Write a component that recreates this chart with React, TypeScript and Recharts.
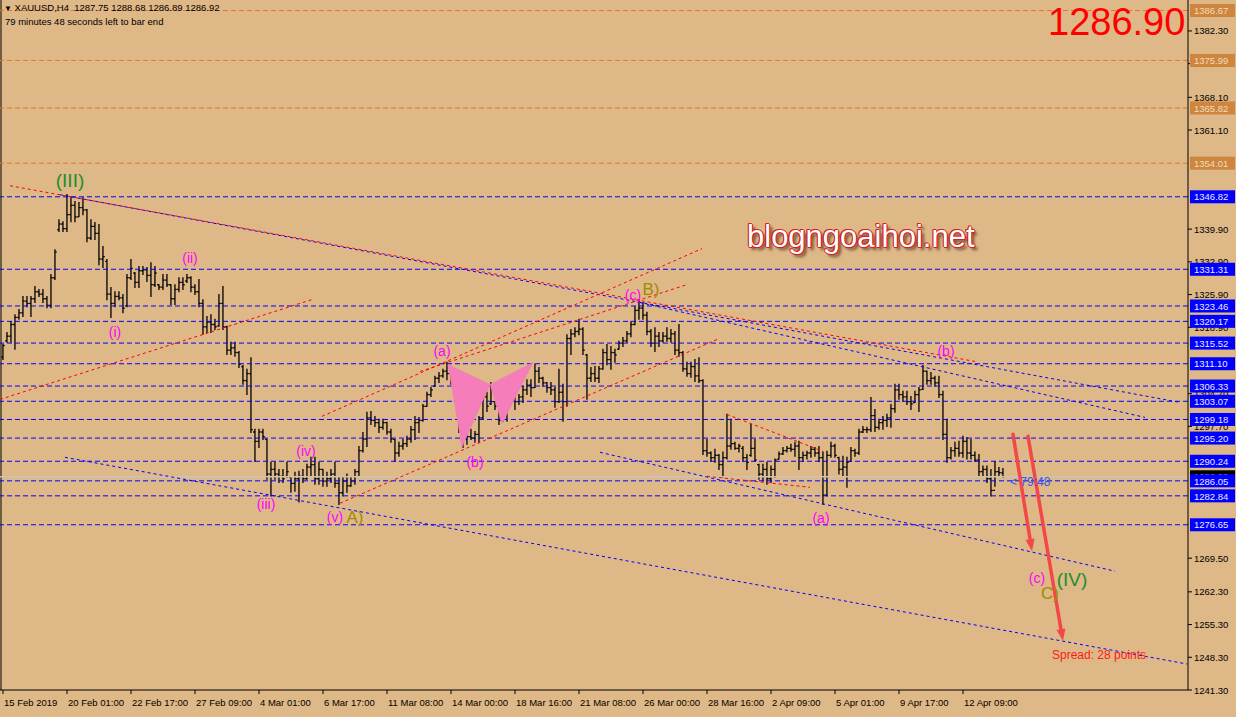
import React from 'react';
import { ComposedChart, XAxis, YAxis, Bar, ReferenceLine, ReferenceDot, Scatter } from 'recharts';

const FONT = "'Liberation Sans', Arial, sans-serif";

// ---- OHLC data (XAUUSD H4, 15 Feb 2019 -> 15 Apr 2019) ----
const highs = [
  1315.2, 1317.8, 1320.1, 1321.6, 1322.7, 1325.5, 1325.5, 1325.5, 1327.6, 1327.0,
  1327.0, 1325.5, 1330.2, 1335.5, 1341.9, 1341.5, 1347.3, 1346.8, 1345.8, 1345.6,
  1346.6, 1344.1, 1341.9, 1341.3, 1340.9, 1336.2, 1333.4, 1327.4, 1326.5, 1326.5,
  1325.9, 1330.2, 1333.4, 1330.6, 1331.9, 1331.9, 1331.7, 1332.7, 1331.9, 1328.0,
  1330.2, 1330.2, 1328.0, 1328.0, 1329.5, 1329.5, 1330.2, 1329.7, 1328.0, 1329.1,
  1324.8, 1321.2, 1321.6, 1320.6, 1325.9, 1327.6, 1319.1, 1315.7, 1315.7, 1313.7,
  1310.7, 1309.9, 1312.4, 1297.1, 1297.1, 1297.1, 1294.9, 1290.0, 1290.0, 1288.5,
  1288.5, 1290.0, 1287.0, 1287.9, 1288.1, 1288.5, 1289.6, 1291.1, 1291.1, 1290.0,
  1288.5, 1287.9, 1288.5, 1290.0, 1287.0, 1287.0, 1287.5, 1286.8, 1288.5, 1293.4,
  1296.4, 1300.7, 1300.9, 1299.8, 1299.2, 1299.2, 1298.6, 1297.1, 1294.9, 1294.3,
  1294.9, 1295.6, 1297.7, 1299.8, 1299.6, 1302.4, 1305.0, 1306.0, 1308.4, 1309.2,
  1309.9, 1311.4, 1309.9, 1306.7, 1305.0, 1298.6, 1296.6, 1297.1, 1296.6, 1299.8,
  1305.0, 1305.0, 1307.1, 1303.0, 1303.0, 1302.4, 1307.1, 1307.1, 1307.1, 1304.5,
  1306.3, 1307.7, 1307.7, 1311.0, 1310.3, 1308.2, 1307.1, 1307.1, 1306.0, 1309.9,
  1306.7, 1317.3, 1318.4, 1318.8, 1320.6, 1318.8, 1313.1, 1310.3, 1310.5, 1310.5,
  1314.2, 1315.2, 1314.8, 1314.2, 1315.9, 1316.7, 1318.0, 1320.1, 1323.3, 1324.8,
  1324.2, 1322.1, 1318.4, 1318.8, 1317.8, 1317.8, 1318.8, 1318.4, 1318.0, 1319.5,
  1313.7, 1311.4, 1311.4, 1312.0, 1312.4, 1307.7, 1294.9, 1292.2, 1292.8, 1291.7,
  1292.2, 1300.3, 1299.2, 1294.3, 1293.9, 1293.4, 1291.7, 1298.1, 1294.9, 1289.6,
  1289.6, 1290.0, 1289.2, 1290.7, 1292.2, 1293.2, 1293.4, 1293.9, 1294.3, 1294.5,
  1292.2, 1292.4, 1293.4, 1293.2, 1293.4, 1292.2, 1292.4, 1294.3, 1293.9, 1291.1,
  1291.3, 1291.1, 1293.2, 1292.8, 1297.1, 1297.7, 1297.5, 1303.9, 1301.3, 1299.2,
  1299.8, 1300.3, 1302.4, 1306.7, 1306.7, 1305.2, 1305.2, 1304.1, 1305.2, 1306.0,
  1310.7, 1309.5, 1309.2, 1308.4, 1308.4, 1305.2, 1299.2, 1293.2, 1294.3, 1294.5,
  1295.6, 1295.3, 1294.9, 1292.2, 1291.7, 1289.2, 1289.2, 1288.5, 1290.2, 1288.9,
  1288.68,
];
const lows = [
  1312.0, 1315.7, 1315.7, 1314.2, 1320.6, 1321.2, 1323.3, 1321.2, 1324.2, 1325.5,
  1324.2, 1323.1, 1323.1, 1329.1, 1339.4, 1339.4, 1339.4, 1341.5, 1341.5, 1342.6,
  1343.0, 1337.2, 1337.7, 1337.7, 1332.3, 1331.7, 1324.8, 1321.0, 1323.3, 1324.8,
  1322.0, 1323.3, 1329.1, 1327.4, 1327.4, 1330.2, 1328.7, 1325.5, 1327.6, 1327.0,
  1327.0, 1327.6, 1323.8, 1323.8, 1326.5, 1327.0, 1328.5, 1326.5, 1325.9, 1323.3,
  1317.4, 1317.8, 1317.8, 1318.4, 1319.1, 1318.4, 1313.1, 1313.1, 1312.7, 1310.3,
  1306.7, 1304.5, 1296.4, 1290.2, 1293.2, 1294.9, 1286.4, 1282.8, 1286.4, 1285.7,
  1285.7, 1286.8, 1283.6, 1283.8, 1281.5, 1285.7, 1286.4, 1287.0, 1285.3, 1285.3,
  1284.9, 1284.9, 1285.7, 1284.7, 1281.0, 1282.8, 1283.6, 1284.9, 1285.3, 1287.0,
  1292.2, 1293.4, 1298.1, 1297.7, 1296.4, 1297.1, 1296.0, 1294.3, 1290.2, 1291.3,
  1292.8, 1293.4, 1294.3, 1294.9, 1296.4, 1298.8, 1302.0, 1304.1, 1306.3, 1307.1,
  1308.2, 1307.7, 1306.7, 1303.0, 1296.4, 1293.2, 1293.9, 1294.9, 1294.3, 1294.3,
  1299.2, 1300.9, 1302.4, 1301.3, 1298.1, 1298.8, 1298.8, 1302.8, 1301.3, 1302.4,
  1302.8, 1304.5, 1304.1, 1306.0, 1307.1, 1306.3, 1305.0, 1304.5, 1301.8, 1302.8,
  1298.8, 1302.0, 1313.1, 1316.9, 1317.3, 1313.1, 1303.5, 1307.3, 1307.3, 1307.1,
  1309.9, 1310.9, 1309.9, 1311.4, 1314.2, 1314.8, 1315.7, 1316.9, 1319.5, 1320.6,
  1320.6, 1317.3, 1314.8, 1313.7, 1314.8, 1315.7, 1315.9, 1315.7, 1313.1, 1312.7,
  1309.5, 1308.4, 1308.2, 1307.3, 1307.1, 1291.7, 1291.3, 1290.2, 1290.0, 1288.5,
  1286.8, 1290.7, 1292.8, 1292.8, 1292.2, 1290.2, 1288.5, 1291.3, 1290.2, 1286.4,
  1286.0, 1285.3, 1285.7, 1286.8, 1290.7, 1291.7, 1292.2, 1292.4, 1291.3, 1288.5,
  1290.2, 1290.7, 1291.1, 1291.3, 1290.2, 1281.0, 1282.8, 1291.1, 1291.1, 1287.5,
  1287.0, 1284.7, 1290.2, 1291.3, 1291.7, 1296.4, 1296.4, 1296.6, 1296.6, 1297.1,
  1297.1, 1297.7, 1297.5, 1300.7, 1303.5, 1303.0, 1302.4, 1301.3, 1302.8, 1300.9,
  1305.6, 1306.7, 1306.7, 1306.3, 1303.9, 1294.9, 1290.0, 1290.7, 1291.3, 1291.3,
  1291.1, 1290.7, 1290.7, 1290.2, 1287.0, 1287.0, 1285.7, 1282.8, 1284.9, 1287.0,
  1286.89,
];
const opens = [
  1312.5, 1316.0, 1317.0, 1319.5, 1321.0, 1322.0, 1324.5, 1324.0, 1325.0, 1326.5,
  1326.0, 1325.0, 1323.6, 1329.5, 1339.8, 1341.0, 1340.0, 1343.0, 1345.0, 1342.5,
  1344.5, 1344.0, 1338.0, 1340.5, 1339.0, 1333.5, 1333.0, 1326.0, 1324.0, 1325.5,
  1325.2, 1323.5, 1329.5, 1330.5, 1328.5, 1331.0, 1331.2, 1330.0, 1328.0, 1328.0,
  1327.5, 1329.0, 1328.0, 1325.0, 1327.0, 1328.5, 1328.8, 1329.5, 1327.5, 1326.5,
  1324.0, 1319.0, 1320.0, 1319.5, 1319.2, 1324.0, 1319.0, 1314.0, 1314.5, 1313.5,
  1310.5, 1307.5, 1309.0, 1296.5, 1294.5, 1296.5, 1294.9, 1287.5, 1288.5, 1287.5,
  1287.0, 1287.0, 1286.8, 1285.5, 1286.5, 1287.0, 1286.5, 1289.0, 1289.5, 1286.5,
  1288.5, 1286.0, 1286.5, 1287.5, 1285.5, 1283.5, 1286.0, 1285.0, 1286.0, 1288.0,
  1292.5, 1295.0, 1299.5, 1299.0, 1298.5, 1297.5, 1298.5, 1296.5, 1294.9, 1292.0,
  1293.5, 1294.0, 1295.0, 1297.0, 1298.5, 1299.0, 1302.0, 1304.5, 1306.3, 1308.0,
  1308.5, 1309.5, 1309.0, 1306.7, 1303.5, 1298.0, 1295.0, 1295.5, 1295.2, 1296.0,
  1299.5, 1304.0, 1302.5, 1303.0, 1302.0, 1299.0, 1302.0, 1306.0, 1304.0, 1303.0,
  1304.0, 1305.5, 1306.5, 1306.0, 1309.5, 1308.0, 1307.0, 1306.0, 1305.5, 1303.0,
  1305.0, 1303.0, 1316.5, 1317.5, 1318.0, 1318.5, 1313.0, 1308.0, 1309.0, 1308.0,
  1310.0, 1313.5, 1312.0, 1313.5, 1314.2, 1315.5, 1316.0, 1317.5, 1319.5, 1322.5,
  1323.0, 1321.5, 1318.0, 1315.5, 1317.0, 1316.0, 1317.0, 1316.5, 1317.5, 1314.0,
  1313.5, 1310.0, 1309.0, 1310.5, 1308.5, 1307.5, 1292.5, 1292.0, 1291.0, 1291.5,
  1289.5, 1291.0, 1293.5, 1294.0, 1293.0, 1293.0, 1291.0, 1291.5, 1293.0, 1289.5,
  1287.5, 1288.5, 1286.5, 1288.5, 1290.7, 1291.8, 1292.5, 1293.0, 1292.8, 1293.5,
  1291.0, 1291.5, 1292.0, 1292.8, 1292.0, 1291.0, 1283.0, 1291.5, 1293.5, 1291.0,
  1288.5, 1289.0, 1290.2, 1292.5, 1292.0, 1296.5, 1297.0, 1297.0, 1300.0, 1297.5,
  1298.5, 1299.0, 1299.5, 1301.5, 1305.5, 1304.5, 1304.0, 1303.0, 1302.8, 1304.5,
  1305.6, 1309.5, 1307.5, 1308.0, 1307.0, 1304.5, 1296.0, 1291.0, 1292.5, 1293.0,
  1292.0, 1294.5, 1292.0, 1291.5, 1290.5, 1288.0, 1288.5, 1286.5, 1284.0, 1288.0,
  1287.75,
];
const closes = [
  1315.0, 1317.0, 1319.5, 1321.0, 1322.0, 1324.5, 1324.0, 1325.0, 1326.5, 1326.0,
  1325.0, 1323.6, 1329.5, 1335.0, 1341.0, 1340.0, 1343.0, 1345.0, 1342.5, 1344.5,
  1344.0, 1338.0, 1340.5, 1339.0, 1333.5, 1334.0, 1326.0, 1324.0, 1325.5, 1325.2,
  1323.0, 1329.5, 1331.5, 1328.5, 1331.0, 1331.2, 1330.0, 1328.0, 1330.5, 1327.5,
  1329.0, 1328.0, 1325.0, 1327.0, 1328.5, 1328.0, 1329.5, 1327.5, 1326.5, 1324.0,
  1319.0, 1320.0, 1319.5, 1319.0, 1324.0, 1319.0, 1314.0, 1314.5, 1313.5, 1311.0,
  1307.5, 1309.0, 1297.0, 1294.5, 1296.5, 1295.5, 1287.5, 1288.5, 1287.5, 1287.0,
  1286.5, 1288.0, 1285.5, 1286.5, 1287.0, 1286.5, 1289.0, 1289.5, 1286.5, 1288.5,
  1286.0, 1286.5, 1287.5, 1285.5, 1283.5, 1286.0, 1285.0, 1286.0, 1288.0, 1292.5,
  1295.0, 1299.5, 1299.0, 1298.5, 1297.5, 1298.5, 1296.5, 1295.0, 1292.0, 1293.5,
  1294.0, 1295.0, 1297.0, 1298.5, 1299.0, 1302.0, 1304.5, 1305.5, 1308.0, 1308.5,
  1309.5, 1309.0, 1307.0, 1303.5, 1298.0, 1295.0, 1295.5, 1295.2, 1296.0, 1299.5,
  1304.0, 1302.0, 1303.0, 1302.0, 1299.0, 1302.0, 1306.0, 1304.0, 1303.0, 1304.0,
  1305.5, 1306.5, 1306.0, 1309.5, 1308.0, 1307.0, 1306.0, 1305.5, 1303.0, 1305.0,
  1303.0, 1316.5, 1317.5, 1318.0, 1318.5, 1314.0, 1308.0, 1309.0, 1308.0, 1310.0,
  1313.5, 1312.0, 1313.5, 1313.0, 1315.5, 1316.0, 1317.5, 1319.5, 1322.5, 1323.0,
  1321.5, 1318.0, 1315.5, 1317.0, 1316.0, 1317.0, 1316.5, 1317.5, 1314.0, 1313.5,
  1310.0, 1309.0, 1310.5, 1308.5, 1307.5, 1292.5, 1292.0, 1291.0, 1291.5, 1289.5,
  1291.0, 1293.5, 1294.0, 1293.0, 1293.5, 1291.0, 1290.0, 1293.0, 1290.5, 1287.5,
  1288.5, 1286.5, 1288.5, 1290.5, 1291.8, 1292.5, 1293.0, 1292.8, 1293.5, 1291.0,
  1291.5, 1292.0, 1292.8, 1292.0, 1291.0, 1283.0, 1291.5, 1293.5, 1291.5, 1288.5,
  1289.0, 1290.0, 1292.5, 1292.0, 1296.5, 1297.0, 1297.0, 1300.0, 1297.5, 1298.5,
  1299.0, 1299.5, 1301.5, 1305.5, 1304.5, 1304.0, 1303.0, 1302.5, 1304.5, 1305.5,
  1309.5, 1307.5, 1308.0, 1307.0, 1304.5, 1296.0, 1291.0, 1292.5, 1293.0, 1292.0,
  1294.5, 1292.0, 1291.5, 1290.5, 1288.0, 1288.5, 1286.5, 1284.0, 1288.0, 1287.8,
  1286.92,
];

// ---- axes ----
const xTickIndex = [0, 16, 32, 48, 64, 80, 96, 112, 128, 144, 160, 176, 192, 208, 224, 240];
const xTickLabels = [
  '15 Feb 2019', '20 Feb 01:00', '22 Feb 17:00', '27 Feb 09:00', '4 Mar 01:00', '6 Mar 17:00',
  '11 Mar 08:00', '14 Mar 00:00', '18 Mar 16:00', '21 Mar 08:00', '26 Mar 00:00', '28 Mar 16:00',
  '2 Apr 09:00', '5 Apr 01:00', '9 Apr 17:00', '12 Apr 09:00',
];
// price-scale labels that are not completely covered by the level tags
const yTicks = [
  1382.3, 1375.3, 1368.1, 1361.1, 1339.9, 1332.9, 1325.9, 1318.9,
  1304.7, 1297.7, 1269.5, 1262.3, 1255.3, 1248.3, 1241.3,
];

// ---- horizontal levels ----
const blueLevels = [1346.82, 1331.31, 1323.46, 1320.17, 1315.52, 1311.10, 1306.33, 1303.07, 1299.18, 1295.20, 1290.24, 1286.05, 1282.84, 1276.65];
const orangeLevels = [1386.67, 1375.99, 1365.82, 1354.01];
const bidPrice = 1286.92;

// ---- trend lines: [startIndex, startPrice, endIndex, endPrice] ----
const blueTrends = [
  [14.25, 1347.26, 294.25, 1302.83],
  [159.25, 1324.19, 285.5, 1299.62],
  [149.25, 1292.15, 278, 1266.72],
  [15.5, 1291.08, 296, 1246.86],
];
const redTrends = [
  [1.75, 1349.18, 243, 1311.59],
  [-0.75, 1303.47, 77.25, 1324.83],
  [79.75, 1299.84, 174.75, 1335.73],
  [104.25, 1309.45, 171, 1328.04],
  [84.25, 1281.25, 178.5, 1316.29],
  [181, 1300.26, 205, 1292.36],
  [176, 1287.02, 201.75, 1284.67],
];
const arrows = [
  [252.5, 1296.0, 257.25, 1271.0],
  [256.25, 1295.56, 265, 1251.77],
];

// ---- butterfly pattern ----
const butterflyLeft = [
  { i: 111.25, p: 1310.95 },
  { i: 121.75, p: 1306.67 },
  { i: 114.75, p: 1293.21 },
];
const butterflyRight = [
  { i: 121.75, p: 1306.67 },
  { i: 132.5, p: 1311.37 },
  { i: 124.75, p: 1298.2 },
];

// ---- wave labels ----
const MAG = '#FF00FF';
const GRN = '#18902A';
const OLV = '#9C8C00';
const waveLabels = [
  { i: 16.75, p: 1350.2, text: '(III)', color: GRN, size: 19, anchor: 'middle' },
  { i: 46.75, p: 1333.8, text: '(ii)', color: MAG, size: 14, anchor: 'middle' },
  { i: 28, p: 1317.8, text: '(i)', color: MAG, size: 14, anchor: 'middle' },
  { i: 65.75, p: 1281.0, text: '(iii)', color: MAG, size: 14, anchor: 'middle' },
  { i: 75.75, p: 1292.4, text: '(iv)', color: MAG, size: 14, anchor: 'middle' },
  { i: 83, p: 1278.3, text: '(v)', color: MAG, size: 14, anchor: 'middle' },
  { i: 88, p: 1278.1, text: 'A)', color: OLV, size: 17, anchor: 'middle' },
  { i: 109.75, p: 1313.9, text: '(a)', color: MAG, size: 14, anchor: 'middle' },
  { i: 118, p: 1290.0, text: '(b)', color: MAG, size: 14, anchor: 'middle' },
  { i: 157.5, p: 1325.9, text: '(c)', color: MAG, size: 14, anchor: 'middle' },
  { i: 162, p: 1327.0, text: 'B)', color: OLV, size: 17, anchor: 'middle' },
  { i: 204.5, p: 1278.0, text: '(a)', color: MAG, size: 14, anchor: 'middle' },
  { i: 235.75, p: 1313.9, text: '(b)', color: MAG, size: 14, anchor: 'middle' },
  { i: 258.5, p: 1265.3, text: '(c)', color: MAG, size: 14, anchor: 'middle' },
  { i: 261.75, p: 1262.0, text: 'C)', color: OLV, size: 17, anchor: 'middle' },
  { i: 267.25, p: 1265.0, text: '(IV)', color: GRN, size: 19, anchor: 'middle' },
  { i: 251.75, p: 1285.7, text: '< 79:48', color: '#3355EE', size: 12, anchor: 'start' },
  { i: 262.25, p: 1248.8, text: 'Spread: 28 points', color: '#FF1A1A', size: 12, anchor: 'start' },
];

const rows = highs.map((h, i) => ({
  i,
  range: [lows[i], h],
  h,
  l: lows[i],
  o: opens[i],
  c: closes[i],
}));

// price tags drawn on a second (1px wide) axis so that they sit above the price-scale labels
const tagValues = [...orangeLevels, bidPrice, ...blueLevels];
const tagStyle = (v: number) => {
  if (orangeLevels.includes(v)) return { bg: '#CD853F', fg: '#F3DDB8' };
  if (v === bidPrice) return { bg: '#000000', fg: '#FFFFFF' };
  return { bg: '#0000FF', fg: '#ECECFF' };
};
const TAG_X = 1190;

const OhlcShape = (props: any) => {
  const { x, y, width, height, payload } = props;
  if (payload == null) return <g />;
  const cx = x + width / 2;
  const span = payload.h - payload.l || 1;
  const yo = y + ((payload.h - payload.o) / span) * height;
  const yc = y + ((payload.h - payload.c) / span) * height;
  return (
    <g stroke="#000" strokeWidth={1.3}>
      <line x1={cx} x2={cx} y1={y - 0.5} y2={y + height + 0.5} />
      <line x1={cx - 1.8} x2={cx} y1={yo} y2={yo} />
      <line x1={cx} x2={cx + 1.8} y1={yc} y2={yc} />
    </g>
  );
};

const XTick = (props: any) => {
  const { x, y, payload } = props;
  const idx = xTickIndex.indexOf(payload.value);
  return (
    <text x={x + 1} y={y + 10} fontSize={9.5} fontFamily={FONT} fill="#000">
      {idx >= 0 ? xTickLabels[idx] : ''}
    </text>
  );
};

const YTick = (props: any) => {
  const { x, y, payload } = props;
  return (
    <text x={x} y={y + 3.5} fontSize={9.5} fontFamily={FONT} fill="#000" textAnchor="start">
      {Number(payload.value).toFixed(2)}
    </text>
  );
};

const TagTick = (props: any) => {
  const { y, payload } = props;
  const v = Number(payload.value);
  const s = tagStyle(v);
  return (
    <g>
      <rect x={TAG_X} y={y - 6.5} width={45} height={13} fill={s.bg} />
      <text x={TAG_X + 4} y={y + 3.7} fontSize={9.5} fontFamily={FONT} fill={s.fg}>
        {v.toFixed(2)}
      </text>
    </g>
  );
};

const arrowShape = (p: any) => {
  const { x1, y1, x2, y2 } = p;
  const dx = x2 - x1;
  const dy = y2 - y1;
  const len = Math.hypot(dx, dy) || 1;
  const ux = dx / len;
  const uy = dy / len;
  const hl = 12;
  const hw = 4.5;
  const bx = x2 - ux * hl;
  const by = y2 - uy * hl;
  return (
    <g>
      <line x1={x1} y1={y1} x2={bx} y2={by} stroke="#F24848" strokeWidth={3.5} strokeLinecap="round" />
      <polygon points={`${x2},${y2} ${bx - uy * hw},${by + ux * hw} ${bx + uy * hw},${by - ux * hw}`} fill="#F24848" />
    </g>
  );
};

const polygonLine = (p: any) => {
  const pts = (p.points || []).map((q: any) => `${q.x},${q.y}`).join(' ');
  return <polygon points={pts} fill="#F47DBA" stroke="#F47DBA" strokeWidth={0.5} />;
};

const labelShape = (lab: any) => (p: any) => (
  <text
    x={p.cx}
    y={p.cy}
    textAnchor={lab.anchor}
    dominantBaseline="central"
    fontSize={lab.size}
    fontFamily={FONT}
    fill={lab.color}
  >
    {lab.text}
  </text>
);

export default function App() {
  return (
    <div
      style={{
        position: 'absolute',
        left: 0,
        top: 0,
        width: 1236,
        height: 717,
        background: '#DEB887',
        overflow: 'hidden',
        fontFamily: FONT,
      }}
    >
      <ComposedChart width={1236} height={717} data={rows} margin={{ top: 0, right: 0, bottom: 0, left: -1 }}>
        <XAxis
          type="number"
          dataKey="i"
          domain={[-0.75, 296.25]}
          ticks={xTickIndex}
          interval={0}
          height={27}
          tickSize={4}
          tickLine={{ stroke: '#000' }}
          axisLine={{ stroke: '#000' }}
          tick={XTick}
          allowDataOverflow
        />
        <YAxis
          orientation="right"
          domain={[1241.3, 1388.92]}
          ticks={yTicks}
          interval={0}
          width={48}
          tickSize={4}
          tickLine={{ stroke: '#000' }}
          axisLine={{ stroke: '#000' }}
          tick={YTick}
          allowDataOverflow
        />
        <YAxis
          yAxisId="tags"
          orientation="left"
          domain={[1241.3, 1388.92]}
          ticks={tagValues}
          interval={0}
          width={1}
          tickLine={false}
          axisLine={false}
          tick={TagTick}
          allowDataOverflow
        />
        <ReferenceLine x={-0.5} stroke="#000" strokeWidth={1} />
        {orangeLevels.map((v) => (
          <ReferenceLine key={'o' + v} y={v} stroke="#E0782A" strokeDasharray="5 3" />
        ))}
        <ReferenceLine y={bidPrice} stroke="#C4C4C4" strokeWidth={1.5} />
        {blueLevels.map((v) => (
          <ReferenceLine key={'b' + v} y={v} stroke="#0000FF" strokeDasharray="5 3" />
        ))}
        {blueTrends.map((t, k) => (
          <ReferenceLine
            key={'bt' + k}
            segment={[{ x: t[0], y: t[1] }, { x: t[2], y: t[3] }]}
            stroke="#0000FF"
            strokeDasharray="3 3"
          />
        ))}
        {redTrends.map((t, k) => (
          <ReferenceLine
            key={'rt' + k}
            segment={[{ x: t[0], y: t[1] }, { x: t[2], y: t[3] }]}
            stroke="#FF0000"
            strokeDasharray="3 3"
          />
        ))}
        <Scatter data={butterflyLeft} dataKey="p" line={polygonLine} shape={() => <g />} isAnimationActive={false} />
        <Scatter data={butterflyRight} dataKey="p" line={polygonLine} shape={() => <g />} isAnimationActive={false} />
        <Bar dataKey="range" barSize={3} shape={OhlcShape} isAnimationActive={false} />
        {arrows.map((a, k) => (
          <ReferenceLine
            key={'ar' + k}
            segment={[{ x: a[0], y: a[1] }, { x: a[2], y: a[3] }]}
            shape={arrowShape}
          />
        ))}
        {waveLabels.map((lab, k) => (
          <ReferenceDot key={'wl' + k} x={lab.i} y={lab.p} r={0} shape={labelShape(lab)} />
        ))}
      </ComposedChart>

      <div style={{ position: 'absolute', left: 4, top: 2, fontSize: 9.5, color: '#000', whiteSpace: 'nowrap', lineHeight: '12px' }}>
        <span style={{ fontSize: 8 }}>▼</span> XAUUSD,H4&nbsp; 1287.75 1288.68 1286.89 1286.92
      </div>
      <div style={{ position: 'absolute', left: 5, top: 16, fontSize: 9.5, color: '#000', whiteSpace: 'nowrap', lineHeight: '12px' }}>
        79 minutes 48 seconds left to bar end
      </div>
      <div style={{ position: 'absolute', left: 1048, top: 0, fontSize: 38, color: '#FF0000', lineHeight: '44px', whiteSpace: 'nowrap' }}>
        1286.90
      </div>
      <div
        style={{
          position: 'absolute',
          left: 747,
          top: 215,
          fontSize: 31,
          color: '#FFFFFF',
          lineHeight: '44px',
          whiteSpace: 'nowrap',
          textShadow:
            '1px 0 0 #D82020, -1px 0 0 #D82020, 0 1px 0 #D82020, 0 -1px 0 #D82020, 1px 1px 0 #D82020, -1px -1px 0 #D82020, 3px 3px 3px rgba(40,10,0,0.65)',
        }}
      >
        blogngoaihoi.net
      </div>
    </div>
  );
}
